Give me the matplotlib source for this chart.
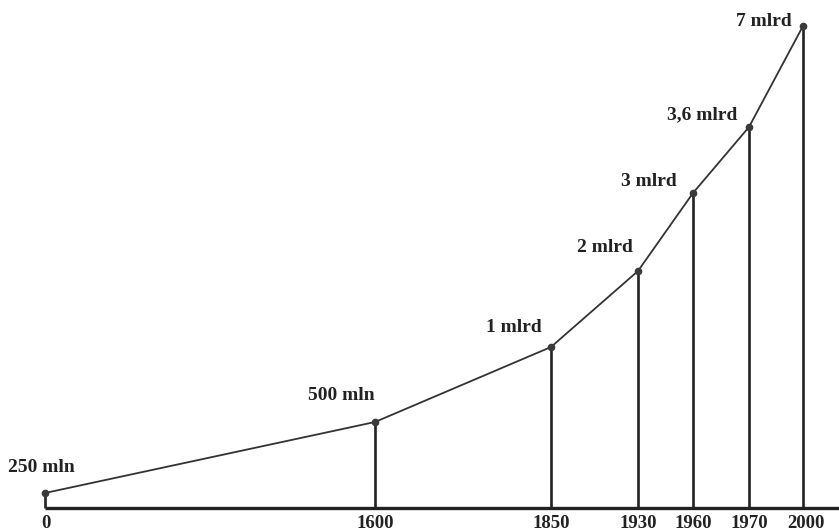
import numpy as np
import matplotlib
matplotlib.use("Agg")
import matplotlib.pyplot as plt
from matplotlib.scale import FuncScale

# ---- data ----
years = [0, 1600, 1850, 1930, 1960, 1970, 2000]
year_labels = ["0", "1600", "1850", "1930", "1960", "1970", "2000"]
population_bn = [0.25, 0.5, 1, 2, 3, 3.6, 7]
value_labels = ["250 mln", "500 mln", "1 mlrd", "2 mlrd", "3 mlrd", "3,6 mlrd", "7 mlrd"]

# ---- layout (non-uniform axis scales, in pixels) ----
W, H = 839, 531
x_px = [45, 375, 551, 638, 693, 749, 803]
y_scale_vals = [0] + population_bn
y_px = [23, 38, 109, 184, 260, 338, 404, 505]


def piecewise(v, xp, fp):
    v = np.asarray(v, dtype=float)
    xp = np.asarray(xp, float)
    fp = np.asarray(fp, float)
    out = np.interp(v, xp, fp)
    lo = v < xp[0]
    hi = v > xp[-1]
    s0 = (fp[1] - fp[0]) / (xp[1] - xp[0])
    s1 = (fp[-1] - fp[-2]) / (xp[-1] - xp[-2])
    out = np.where(lo, fp[0] + (v - xp[0]) * s0, out)
    out = np.where(hi, fp[-1] + (v - xp[-1]) * s1, out)
    return out


fx = lambda v: piecewise(v, years, x_px)
ix = lambda p: piecewise(p, x_px, years)
fy = lambda v: piecewise(v, y_scale_vals, y_px)
iy = lambda p: piecewise(p, y_px, y_scale_vals)

label_off = [(-37, 26, 'left'), (0, 26, 'right'), (-9, 20, 'right'), (-5, 23, 'right'),
             (-16, 11, 'right'), (-12, 12, 'right'), (-11, 5, 'right')]
year_dx = [1, 0, 0, 0, 0, 0, 3]

fig = plt.figure(figsize=(W / 100, H / 100), dpi=100)
fig.patch.set_facecolor("white")
ax = fig.add_axes([0, 0, 1, 1])
ax.set_xscale(FuncScale(ax, (fx, ix)))
ax.set_yscale(FuncScale(ax, (fy, iy)))
ax.set_xlim(float(ix(0)), float(ix(W)))
ax.set_ylim(float(iy(0)), float(iy(H)))
ax.axis("off")

ink = "#222222"
font = dict(family="Liberation Serif", weight="bold", color=ink)

# baseline
ax.plot([years[0], float(ix(W))], [0, 0], color=ink, lw=2.4, solid_capstyle="butt")
# verticals
ax.vlines(years, 0, population_bn, color=ink, lw=1.9)
# curve
ax.plot(years, population_bn, color="#333333", lw=1.3, marker="o", ms=4.5,
        markerfacecolor="#3a3a3a", markeredgecolor="#3a3a3a")

for yr, p, lab, (dx, dy, ha) in zip(years, population_bn, value_labels, label_off):
    ax.annotate(lab, (yr, p), xytext=(dx, dy), textcoords="offset pixels",
                ha=ha, va="center", fontsize=14, **font)

for yr, lab, dx in zip(years, year_labels, year_dx):
    ax.annotate(lab, (yr, 0), xytext=(dx, -16), textcoords="offset pixels",
                ha="center", va="center", fontsize=13.5, **font)

fig.savefig("out.png", dpi=100)
